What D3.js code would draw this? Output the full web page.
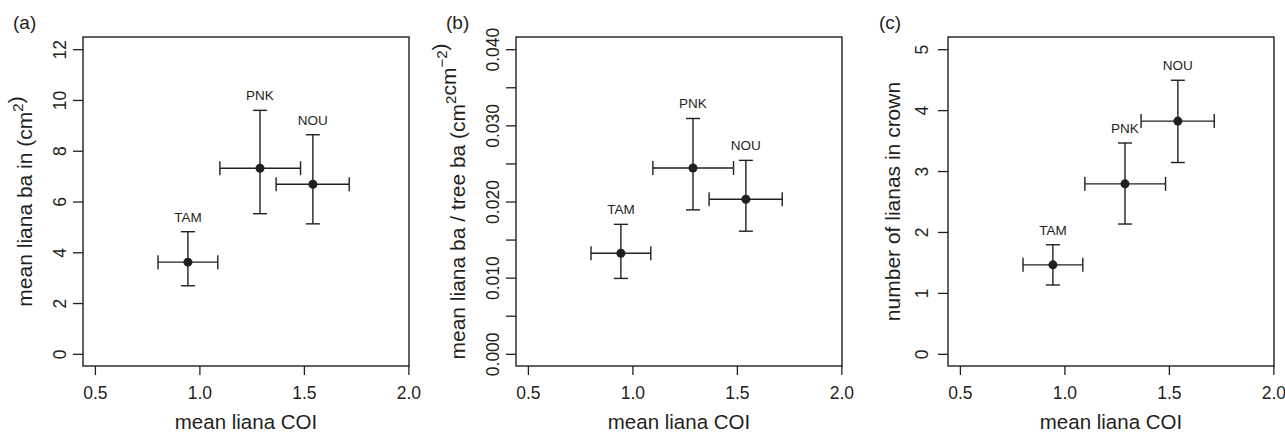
<!DOCTYPE html>
<html>
<head>
<meta charset="utf-8">
<script src="https://cdn.jsdelivr.net/npm/d3@7"></script>
<style>
  body { margin: 0; background: #fff; }
  svg text { font-family: "Liberation Sans", Arial, sans-serif; fill: #231f20; }
</style>
</head>
<body>
<div id="chart"></div>
<script>
// site data
const sites = ["TAM", "PNK", "NOU"];
const coiMean = [0.945, 1.29, 1.543];
const coiLo = [0.802, 1.098, 1.367];
const coiHi = [1.088, 1.484, 1.717];

const baMean = [3.61, 7.31, 6.68];
const baLo = [2.68, 5.52, 5.12];
const baHi = [4.81, 9.59, 8.63];

const ratioMean = [0.0132, 0.0244, 0.0203];
const ratioLo = [0.0099, 0.0189, 0.0161];
const ratioHi = [0.0170, 0.0309, 0.0254];

const crownMean = [1.46, 2.79, 3.82];
const crownLo = [1.13, 2.13, 3.14];
const crownHi = [1.79, 3.46, 4.49];

const xTicks = [0.5, 1.0, 1.5, 2.0];
const yTicksA = [0, 2, 4, 6, 8, 10, 12];
const yTicksB = [0, 0.005, 0.01, 0.015, 0.02, 0.025, 0.03, 0.035, 0.04];
const yTicksC = [0, 1, 2, 3, 4, 5];

const W = 1285, H = 434;
const plotTop = 37, plotBottom = 366, boxW = 326;
const ink = "#231f20";

const svg = d3.select("#chart").append("svg")
  .attr("width", W).attr("height", H);

const panels = [
  {tag: "(a)", left: 83, tagX: 13, mean: baMean, lo: baLo, hi: baHi,
   ydom: [-0.48, 12.48], ticks: yTicksA, fmt: d => d3.format("d")(d),
   tickGap: 17, titleGap: 51, title: ["mean liana ba in (cm", ["2", "sup"], ")"]},
  {tag: "(b)", left: 516, tagX: 446, mean: ratioMean, lo: ratioLo, hi: ratioHi,
   ydom: [-0.0016, 0.0416], ticks: yTicksB,
   fmt: d => (Math.round(d * 1000) % 10 === 0 ? d3.format(".3f")(d) : ""),
   tickGap: 17, titleGap: 51,
   title: ["mean liana ba / tree ba (cm", ["2", "sup"], "cm", ["\u22122", "sup"], ")"]},
  {tag: "(c)", left: 948, tagX: 879, mean: crownMean, lo: crownLo, hi: crownHi,
   ydom: [-0.2, 5.2], ticks: yTicksC, fmt: d => d3.format("d")(d),
   tickGap: 20, titleGap: 48, title: ["number of lianas in crown"]}
];

panels.forEach(p => {
  const x = d3.scaleLinear([0.443, 2.003], [p.left, p.left + boxW]);
  const y = d3.scaleLinear(p.ydom, [plotBottom, plotTop]);
  const g = svg.append("g");

  // x axis
  const xa = g.append("g")
    .attr("transform", `translate(0,${plotBottom})`)
    .call(d3.axisBottom(x).tickValues(xTicks).tickFormat(d3.format(".1f")).tickSize(9).tickSizeOuter(0));
  xa.select(".domain").remove();
  xa.selectAll("line").attr("stroke", ink).attr("stroke-width", 1.3);
  xa.selectAll("text").attr("dy", null).attr("y", 33).style("font-size", "17.5px").attr("fill", ink);

  // y axis, labels rotated as in R
  const ya = g.append("g")
    .attr("transform", `translate(${p.left},0)`)
    .call(d3.axisLeft(y).tickValues(p.ticks).tickFormat(p.fmt).tickSize(10).tickSizeOuter(0));
  ya.select(".domain").remove();
  ya.selectAll("line").attr("stroke", ink).attr("stroke-width", 1.3);
  ya.selectAll("text")
    .attr("x", null).attr("dy", null)
    .attr("transform", `translate(${-p.tickGap},0) rotate(-90)`)
    .attr("text-anchor", "middle")
    .style("font-size", "17.5px").attr("fill", ink);

  // box
  g.append("rect")
    .attr("x", p.left).attr("y", plotTop)
    .attr("width", boxW).attr("height", plotBottom - plotTop)
    .attr("fill", "none").attr("stroke", ink).attr("stroke-width", 1.4);

  // x title
  g.append("text")
    .attr("x", p.left + boxW / 2).attr("y", 429)
    .attr("text-anchor", "middle")
    .style("font-size", "20.5px")
    .text("mean liana COI");

  // y title
  const yt = g.append("text")
    .attr("transform", `translate(${p.left - p.titleGap},${(plotTop + plotBottom) / 2}) rotate(-90)`)
    .attr("text-anchor", "middle")
    .style("font-size", "21px");
  p.title.forEach(part => {
    if (typeof part === "string") {
      yt.append("tspan").attr("dy", 0).text(part);
    } else {
      yt.append("tspan").attr("dy", -9).style("font-size", "15px").text(part[0]);
      yt.append("tspan").attr("dy", 9).text("");
    }
  });

  // panel tag
  g.append("text")
    .attr("x", p.tagX).attr("y", 29)
    .style("font-size", "19px")
    .text(p.tag);

  // error bars
  const cap = 7;
  const eb = g.append("g").attr("stroke", ink).attr("stroke-width", 1.4).attr("fill", "none");
  sites.forEach((s, i) => {
    const cx = x(coiMean[i]), cy = y(p.mean[i]);
    const y1 = y(p.hi[i]), y0 = y(p.lo[i]);
    const x0 = x(coiLo[i]), x1 = x(coiHi[i]);
    eb.append("line").attr("x1", cx).attr("x2", cx).attr("y1", y1).attr("y2", y0);
    eb.append("line").attr("x1", cx - cap).attr("x2", cx + cap).attr("y1", y1).attr("y2", y1);
    eb.append("line").attr("x1", cx - cap).attr("x2", cx + cap).attr("y1", y0).attr("y2", y0);
    eb.append("line").attr("x1", x0).attr("x2", x1).attr("y1", cy).attr("y2", cy);
    eb.append("line").attr("x1", x0).attr("x2", x0).attr("y1", cy - cap).attr("y2", cy + cap);
    eb.append("line").attr("x1", x1).attr("x2", x1).attr("y1", cy - cap).attr("y2", cy + cap);
  });

  g.selectAll("circle.pt")
    .data(sites)
    .join("circle")
    .attr("class", "pt")
    .attr("cx", (d, i) => x(coiMean[i]))
    .attr("cy", (d, i) => y(p.mean[i]))
    .attr("r", 4.5)
    .attr("fill", ink);

  g.selectAll("text.site")
    .data(sites)
    .join("text")
    .attr("class", "site")
    .attr("x", (d, i) => x(coiMean[i]))
    .attr("y", (d, i) => y(p.hi[i]) - 10)
    .attr("text-anchor", "middle")
    .style("font-size", "13.5px")
    .text(d => d);
});
</script>
</body>
</html>
